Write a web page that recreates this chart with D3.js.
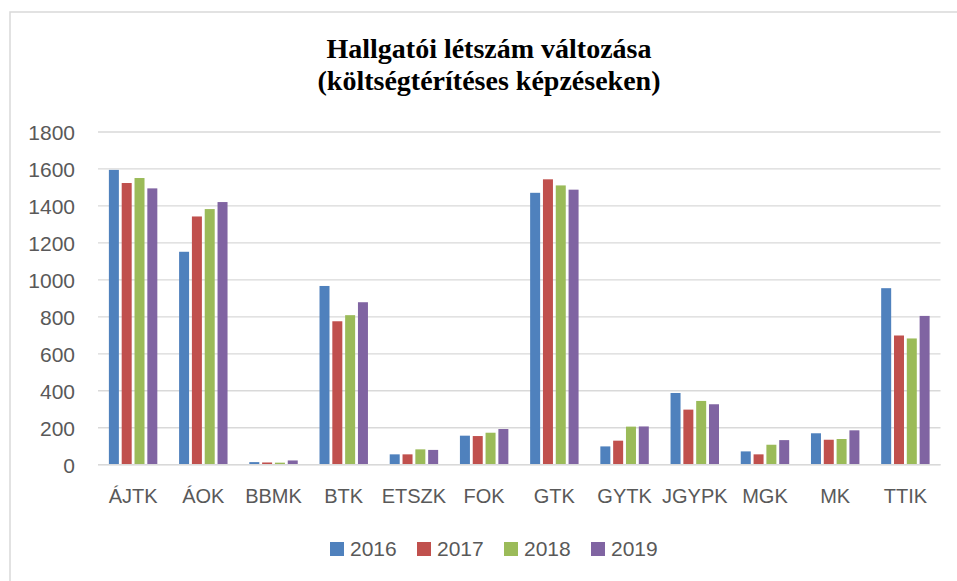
<!DOCTYPE html>
<html>
<head>
<meta charset="utf-8">
<script src="https://cdn.jsdelivr.net/npm/d3@7"></script>
<style>
html,body{margin:0;padding:0;background:#fff;}
svg{display:block;}
</style>
</head>
<body>
<svg id="chart" width="957" height="581"></svg>
<script>
const categories = ["ÁJTK","ÁOK","BBMK","BTK","ETSZK","FOK","GTK","GYTK","JGYPK","MGK","MK","TTIK"];
const years = ["2016","2017","2018","2019"];
const v2016 = [1595,1152,14,967,56,157,1471,99,388,72,170,955];
const v2017 = [1524,1343,12,776,56,155,1544,130,298,56,135,699];
const v2018 = [1551,1383,11,809,83,173,1511,206,345,108,139,683];
const v2019 = [1495,1421,23,879,80,193,1488,207,327,133,186,805];
const yTicks = [0,200,400,600,800,1000,1200,1400,1600,1800];
const titleLines = ["Hallgatói létszám változása","(költségtérítéses képzéseken)"];
const colors = ["#4F81BD","#C0504D","#9BBB59","#8064A2"];

const series = [v2016,v2017,v2018,v2019];
const svg = d3.select("#chart");
const font = "'Liberation Sans', Arial, sans-serif";
const textCol = "#595959";

// outer frame (only top/left visible)
svg.append("rect").attr("x",10).attr("y",12).attr("width",1000).attr("height",700)
  .attr("fill","none").attr("stroke","#d9d9d9").attr("stroke-width",1.5);

// title
const title = svg.append("text").attr("text-anchor","middle")
  .attr("font-family","'Liberation Serif','Times New Roman',serif")
  .attr("font-weight","bold").attr("font-size",28).attr("fill","#000");
titleLines.forEach((t,i)=>{
  title.append("tspan").attr("x",489).attr("y",58+i*32).text(t);
});

const y = d3.scaleLinear().domain([0,1800]).range([464.7,132]);
const x0 = d3.scaleBand().domain(categories).range([98,940.5])
  .paddingInner(0.31).paddingOuter(0.155);
const x1 = d3.scaleBand().domain(years).range([0,x0.bandwidth()]).paddingInner(0.22);

// gridlines
svg.append("g").selectAll("line").data(yTicks).join("line")
  .attr("x1",98).attr("x2",940.5)
  .attr("y1",d=>y(d)).attr("y2",d=>y(d))
  .attr("stroke","#d9d9d9").attr("stroke-width",1.3);

// y axis labels
const yAxis = d3.axisLeft(y).tickValues(yTicks).tickSize(0).tickPadding(0).tickFormat(d3.format("d"));
const gy = svg.append("g").attr("transform","translate(75,0)").call(yAxis);
gy.select(".domain").remove();
gy.selectAll("text").attr("font-family",font).attr("font-size",21).attr("fill",textCol).attr("dy","0.36em");

// bars
const groups = svg.append("g").selectAll("g").data(categories).join("g")
  .attr("transform",d=>`translate(${x0(d)},0)`);
groups.selectAll("rect").data((d,i)=>years.map((yr,j)=>({yr,v:series[j][i],j})))
  .join("rect")
  .attr("x",d=>x1(d.yr)).attr("width",x1.bandwidth())
  .attr("y",d=>y(d.v)).attr("height",d=>y(0)-y(d.v))
  .attr("fill",d=>colors[d.j]);

// zero axis line
svg.append("line").attr("x1",98).attr("x2",940.5).attr("y1",y(0)).attr("y2",y(0))
  .attr("stroke","#d9d9d9").attr("stroke-width",1.5);

// x axis labels
const xAxis = d3.axisBottom(x0).tickSize(0).tickPadding(0);
const gx = svg.append("g").attr("transform","translate(0,503)").call(xAxis);
gx.select(".domain").remove();
gx.selectAll("text").attr("font-family",font).attr("font-size",20).attr("fill",textCol).attr("dy",0);

// legend
const legend = svg.append("g").selectAll("g").data(years).join("g")
  .attr("transform",(d,i)=>`translate(${330+i*87},0)`);
legend.append("rect").attr("x",0).attr("y",542).attr("width",14).attr("height",14)
  .attr("fill",(d,i)=>colors[i]);
legend.append("text").attr("x",20).attr("y",556).attr("font-family",font)
  .attr("font-size",21).attr("fill",textCol).text(d=>d);
</script>
</body>
</html>
